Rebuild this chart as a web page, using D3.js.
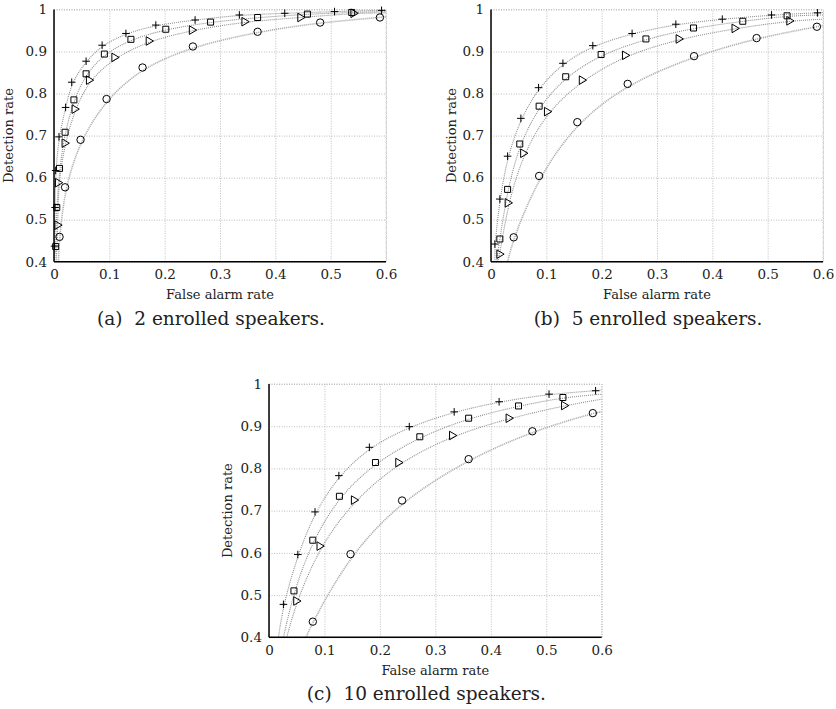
<!DOCTYPE html>
<html>
<head>
<meta charset="utf-8">
<script src="https://cdn.jsdelivr.net/npm/d3@7"></script>
<style>
  body { margin: 0; background: #fff; }
  text { font-family: "DejaVu Serif", "Liberation Serif", "Times New Roman", serif; fill: #222; }
</style>
</head>
<body>
<div id="chart"></div>
<script>
// tick values and labels (shared by all three panels)
var xTicks = [0, 0.1, 0.2, 0.3, 0.4, 0.5, 0.6];
var xTickLabels = ["0", "0.1", "0.2", "0.3", "0.4", "0.5", "0.6"];
var yTicks = [0.4, 0.5, 0.6, 0.7, 0.8, 0.9, 1];
var yTickLabels = ["0.4", "0.5", "0.6", "0.7", "0.8", "0.9", "1"];
var seriesKeys = ["plus", "square", "triangle", "circle"];

// (a) 2 enrolled speakers  -- [false alarm rate, detection rate]
var a_plus = [[0.001,0.437],[0.002,0.529],[0.003,0.617],[0.009,0.697],[0.021,0.767],[0.032,0.827],[0.058,0.877],[0.087,0.915],[0.130,0.943],[0.184,0.963],[0.255,0.975],[0.335,0.987],[0.417,0.991],[0.507,0.995],[0.592,0.998]];
var a_square = [[0.003,0.436],[0.005,0.529],[0.010,0.622],[0.020,0.708],[0.036,0.785],[0.058,0.847],[0.091,0.894],[0.139,0.929],[0.202,0.953],[0.283,0.970],[0.368,0.981],[0.458,0.989],[0.538,0.993]];
var a_triangle = [[0.007,0.487],[0.008,0.588],[0.020,0.682],[0.038,0.763],[0.064,0.832],[0.110,0.886],[0.172,0.925],[0.250,0.951],[0.345,0.971],[0.446,0.981],[0.542,0.991]];
var a_circle = [[0.010,0.459],[0.020,0.577],[0.048,0.690],[0.095,0.787],[0.160,0.862],[0.251,0.912],[0.368,0.947],[0.481,0.969],[0.589,0.981]];
var a_curveStart = [[0.000,0.40],[0.001,0.40],[0.004,0.40],[0.008,0.40]];
var a_curveEnd = [[0.6,0.998],[0.6,0.995],[0.6,0.992],[0.6,0.983]];

// (b) 5 enrolled speakers
var b_plus = [[0.007,0.442],[0.016,0.549],[0.030,0.651],[0.054,0.741],[0.086,0.814],[0.130,0.872],[0.184,0.914],[0.255,0.943],[0.334,0.965],[0.418,0.977],[0.507,0.987],[0.590,0.992]];
var b_square = [[0.016,0.454],[0.030,0.572],[0.052,0.680],[0.087,0.770],[0.135,0.840],[0.199,0.893],[0.280,0.930],[0.366,0.956],[0.455,0.972],[0.535,0.985]];
var b_triangle = [[0.016,0.418],[0.031,0.540],[0.059,0.658],[0.102,0.757],[0.165,0.832],[0.243,0.891],[0.340,0.930],[0.441,0.955],[0.540,0.973]];
var b_circle = [[0.041,0.458],[0.087,0.604],[0.156,0.732],[0.247,0.823],[0.367,0.889],[0.480,0.932],[0.589,0.959]];
var b_curveStart = [[0.007,0.40],[0.010,0.40],[0.012,0.40],[0.030,0.40]];
var b_curveEnd = [[0.6,0.993],[0.6,0.987],[0.6,0.977],[0.6,0.962]];

// (c) 10 enrolled speakers
var c_plus = [[0.026,0.478],[0.052,0.596],[0.083,0.697],[0.126,0.783],[0.181,0.850],[0.253,0.899],[0.334,0.934],[0.415,0.958],[0.505,0.976],[0.589,0.984]];
var c_square = [[0.045,0.510],[0.079,0.630],[0.127,0.734],[0.192,0.814],[0.272,0.875],[0.360,0.919],[0.450,0.948],[0.530,0.968]];
var c_triangle = [[0.050,0.486],[0.092,0.616],[0.154,0.725],[0.234,0.814],[0.331,0.878],[0.433,0.919],[0.533,0.949]];
var c_circle = [[0.079,0.437],[0.147,0.597],[0.240,0.724],[0.360,0.822],[0.475,0.888],[0.584,0.931]];
var c_curveStart = [[0.017,0.40],[0.026,0.40],[0.032,0.40],[0.067,0.40]];
var c_curveEnd = [[0.6,0.986],[0.6,0.976],[0.6,0.964],[0.6,0.934]];

var captions = ["(a)  2 enrolled speakers.", "(b)  5 enrolled speakers.", "(c)  10 enrolled speakers."];

var serif = "'DejaVu Serif', 'Liberation Serif', 'Times New Roman', serif";

var svg = d3.select("#chart").append("svg")
    .attr("width", 836)
    .attr("height", 709);

// marker shapes, drawn as outlines
var markerPath = {
    plus: "M-3.8,0H3.8M0,-3.8V3.8",
    square: "M-3,-3H3V3H-3Z",
    triangle: "M-3,-4.3L4.3,0L-3,4.3Z",
    circle: d3.arc()({ innerRadius: 0, outerRadius: 3.7, startAngle: 0, endAngle: 2 * Math.PI })
};

function drawPanel(cfg) {
    var width = cfg.width, height = cfg.height;
    var x = d3.scaleLinear().domain([0, 0.6]).range([0, width]);
    var y = d3.scaleLinear().domain([0.4, 1]).range([height, 0]);

    var g = svg.append("g")
        .attr("transform", "translate(" + cfg.left + "," + cfg.top + ")");

    var clipId = "clip" + cfg.id;
    g.append("clipPath").attr("id", clipId)
        .append("rect").attr("width", width).attr("height", height);

    var xAxis = d3.axisBottom(x).tickValues(xTicks)
        .tickFormat(function(d, i) { return xTickLabels[i]; })
        .tickSizeInner(-height).tickSizeOuter(0).tickPadding(8);
    var yAxis = d3.axisLeft(y).tickValues(yTicks)
        .tickFormat(function(d, i) { return yTickLabels[i]; })
        .tickSizeInner(-width).tickSizeOuter(0).tickPadding(7);

    var gx = g.append("g").attr("transform", "translate(0," + height + ")").call(xAxis);
    var gy = g.append("g").call(yAxis);
    [gx, gy].forEach(function(ax) {
        ax.attr("font-family", serif);
        ax.select(".domain").remove();
        ax.selectAll(".tick line")
            .attr("stroke", "#bdbdbd")
            .attr("stroke-dasharray", "1,1.5");
        ax.selectAll(".tick text")
            .style("font-family", serif)
            .style("font-size", "13.5px")
            .attr("fill", "#222");
    });

    // fitted curves
    var line = d3.line()
        .x(function(d) { return x(d[0]); })
        .y(function(d) { return y(d[1]); })
        .curve(d3.curveBasis);

    var curves = g.append("g").attr("clip-path", "url(#" + clipId + ")");
    seriesKeys.forEach(function(k, i) {
        var pts = [cfg.start[i]].concat(cfg.series[i]).concat([cfg.end[i]]);
        curves.append("path")
            .attr("d", line(pts))
            .attr("fill", "none")
            .attr("stroke", k == "circle" ? "#b0b0b0" : "#8f8f8f")
            .attr("stroke-width", k == "circle" ? 1.6 : 1.1)
            .attr("stroke-dasharray", k == "circle" ? "1.2,0.8" : "1,1");
    });

    // axis box: solid left/bottom, dotted top/right
    g.append("line").attr("x1", 0).attr("x2", width).attr("y1", 0).attr("y2", 0)
        .attr("stroke", "#bdbdbd").attr("stroke-dasharray", "1,1.5");
    g.append("line").attr("x1", width).attr("x2", width).attr("y1", 0).attr("y2", height)
        .attr("stroke", "#bdbdbd").attr("stroke-dasharray", "1,1.5");
    g.append("line").attr("x1", 0).attr("x2", 0).attr("y1", 0).attr("y2", height)
        .attr("stroke", "#000").attr("stroke-width", 1.5);
    g.append("line").attr("x1", 0).attr("x2", width).attr("y1", height).attr("y2", height)
        .attr("stroke", "#000").attr("stroke-width", 1.5);

    // markers
    seriesKeys.forEach(function(k, i) {
        g.append("g").selectAll("path")
            .data(cfg.series[i])
            .enter().append("path")
            .attr("transform", function(d) { return "translate(" + x(d[0]) + "," + y(d[1]) + ")"; })
            .attr("d", markerPath[k])
            .attr("fill", "none")
            .attr("stroke", "#000")
            .attr("stroke-width", 1);
    });

    g.append("text")
        .attr("x", width / 2).attr("y", height + 37.5)
        .attr("text-anchor", "middle")
        .style("font-family", serif)
        .style("font-size", "13px")
        .text("False alarm rate");

    g.append("text")
        .attr("transform", "translate(" + cfg.yLabelX + "," + (height / 2) + ") rotate(-90)")
        .attr("text-anchor", "middle")
        .style("font-family", serif)
        .style("font-size", "13px")
        .text("Detection rate");

    g.append("text")
        .attr("x", width / 2 - 9).attr("y", height + 63)
        .attr("text-anchor", "middle")
        .attr("xml:space", "preserve")
        .style("white-space", "pre")
        .style("font-family", serif)
        .style("font-size", "18.5px")
        .text(cfg.caption);
}

drawPanel({ id: "a", left: 54, top: 9.5, width: 332, height: 252.2, yLabelX: -41,
    series: [a_plus, a_square, a_triangle, a_circle], start: a_curveStart, end: a_curveEnd, caption: captions[0] });
drawPanel({ id: "b", left: 491, top: 9.5, width: 332, height: 252.2, yLabelX: -35,
    series: [b_plus, b_square, b_triangle, b_circle], start: b_curveStart, end: b_curveEnd, caption: captions[1] });
drawPanel({ id: "c", left: 269, top: 384, width: 332.7, height: 253.3, yLabelX: -37,
    series: [c_plus, c_square, c_triangle, c_circle], start: c_curveStart, end: c_curveEnd, caption: captions[2] });
</script>
</body>
</html>
